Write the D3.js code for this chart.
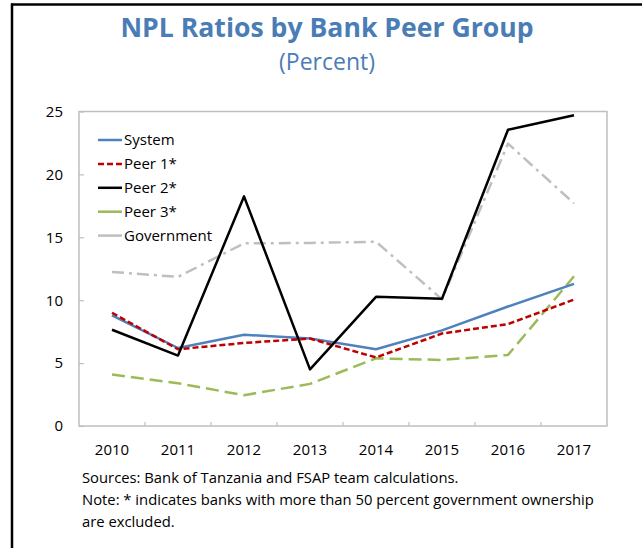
<!DOCTYPE html>
<html>
<head>
<meta charset="utf-8">
<script src="https://cdn.jsdelivr.net/npm/d3@7"></script>
<style>
  html, body { margin: 0; padding: 0; background: #fff; }
  svg { display: block; font-family: "Open Sans", "Noto Sans", sans-serif; }
</style>
</head>
<body>
<svg id="chart" width="642" height="548"></svg>
<script>
// Years on the horizontal axis
const years = ["2010", "2011", "2012", "2013", "2014", "2015", "2016", "2017"];

// NPL ratio (percent) by peer group
const systemValues     = [8.8, 6.2, 7.25, 6.95, 6.1, 7.6, 9.5, 11.3];
const peer1Values      = [9.0, 6.1, 6.6, 6.95, 5.45, 7.35, 8.1, 10.05];
const peer2Values      = [7.65, 5.6, 18.25, 4.5, 10.27, 10.12, 23.55, 24.7];
const peer3Values      = [4.1, 3.4, 2.45, 3.35, 5.38, 5.25, 5.65, 11.9];
const governmentValues = [12.25, 11.85, 14.52, 14.55, 14.65, 10.07, 22.45, 17.7];

const yTicks = [0, 5, 10, 15, 20, 25];

const seriesNames = ["System", "Peer 1*", "Peer 2*", "Peer 3*", "Government"];

const series = [
  { name: seriesNames[0], values: systemValues,     color: "#4f81bd", dash: null,       legendDash: null },
  { name: seriesNames[1], values: peer1Values,      color: "#c00000", dash: "6,3",      legendDash: "6,3" },
  { name: seriesNames[2], values: peer2Values,      color: "#000000", dash: null,       legendDash: null },
  { name: seriesNames[3], values: peer3Values,      color: "#9bbb59", dash: "13,6",     legendDash: null },
  { name: seriesNames[4], values: governmentValues, color: "#bfbfbf", dash: "12,5,3,5", legendDash: null }
];

const svg = d3.select("#chart");

// Outer frame: black rule along the top and left edges
svg.append("line").attr("x1", 11).attr("x2", 642).attr("y1", 4.5).attr("y2", 4.5)
  .attr("stroke", "#000").attr("stroke-width", 2.5);
svg.append("line").attr("x1", 12).attr("x2", 12).attr("y1", 3.5).attr("y2", 548)
  .attr("stroke", "#000").attr("stroke-width", 2.5);

// Titles
svg.append("text").attr("x", 327).attr("y", 37).attr("text-anchor", "middle")
  .attr("fill", "#4a7db5").attr("font-weight", "bold").attr("font-size", 26.6)
  .text("NPL Ratios by Bank Peer Group");
svg.append("text").attr("x", 327).attr("y", 70).attr("text-anchor", "middle")
  .attr("fill", "#4a7db5").attr("font-size", 23)
  .text("(Percent)");

// Plot area
const plotLeft = 79, plotRight = 607, plotTop = 111.5, plotBottom = 426;

const x = d3.scaleBand().domain(years).range([plotLeft, plotRight]);
const y = d3.scaleLinear().domain([0, 25]).range([plotBottom, plotTop]);

// Plot frame
svg.append("rect").attr("x", plotLeft).attr("y", plotTop)
  .attr("width", plotRight - plotLeft).attr("height", plotBottom - plotTop)
  .attr("fill", "none").attr("stroke", "#bfbfbf").attr("stroke-width", 1.5);

// Y axis: inward ticks, labels to the left
const yAxis = svg.append("g").attr("transform", `translate(${plotLeft},0)`)
  .call(d3.axisRight(y).tickValues(yTicks).tickSize(5).tickFormat(d3.format("d")));
yAxis.select(".domain").remove();
yAxis.selectAll(".tick line").attr("stroke", "#bfbfbf").attr("stroke-width", 1.2);
yAxis.selectAll(".tick text").attr("x", -16).attr("text-anchor", "end")
  .attr("font-size", 15).attr("fill", "#000").attr("font-family", "Open Sans, sans-serif");

// X axis: ticks between categories pointing up into the plot
const xBoundaries = years.slice(1).map(d => x(d));
svg.append("g").selectAll("line").data(xBoundaries).join("line")
  .attr("x1", d => d).attr("x2", d => d)
  .attr("y1", plotBottom).attr("y2", plotBottom - 4)
  .attr("stroke", "#bfbfbf").attr("stroke-width", 1.2);
const xAxis = svg.append("g").attr("transform", `translate(0,${plotBottom})`)
  .call(d3.axisBottom(x).tickSize(0).tickPadding(18));
xAxis.select(".domain").remove();
xAxis.selectAll(".tick text").attr("font-size", 15).attr("fill", "#000")
  .attr("font-family", "Open Sans, sans-serif");

// Lines
const line = d3.line()
  .x((d, i) => x(years[i]) + x.bandwidth() / 2)
  .y(d => y(d));

// Draw order: government underneath, then the others
const drawOrder = [4, 3, 0, 1, 2];
svg.append("g").selectAll("path").data(drawOrder.map(i => series[i])).join("path")
  .attr("d", d => line(d.values))
  .attr("fill", "none")
  .attr("stroke", d => d.color)
  .attr("stroke-width", 2.5)
  .attr("stroke-linejoin", "round")
  .attr("stroke-dasharray", d => d.dash);

// Legend
const legend = svg.append("g").attr("transform", "translate(98,140)");
const rows = legend.selectAll("g").data(series).join("g")
  .attr("transform", (d, i) => `translate(0,${i * 23.9})`);
rows.append("line").attr("x1", 0).attr("x2", 24).attr("y1", 0).attr("y2", 0)
  .attr("stroke", d => d.color).attr("stroke-width", 2.5)
  .attr("stroke-dasharray", d => d.legendDash);
rows.append("text").attr("x", 26).attr("y", 0).attr("dy", "0.35em")
  .attr("font-size", 15).attr("fill", "#000").text(d => d.name);

// Footnotes
const notes = [
  "Sources: Bank of Tanzania and FSAP team calculations.",
  "Note: * indicates banks with more than 50 percent government ownership",
  "are excluded."
];
svg.append("g").selectAll("text").data(notes).join("text")
  .attr("x", 82).attr("y", (d, i) => 483 + i * 22)
  .attr("font-size", 14.8).attr("fill", "#000").text(d => d);
</script>
</body>
</html>
